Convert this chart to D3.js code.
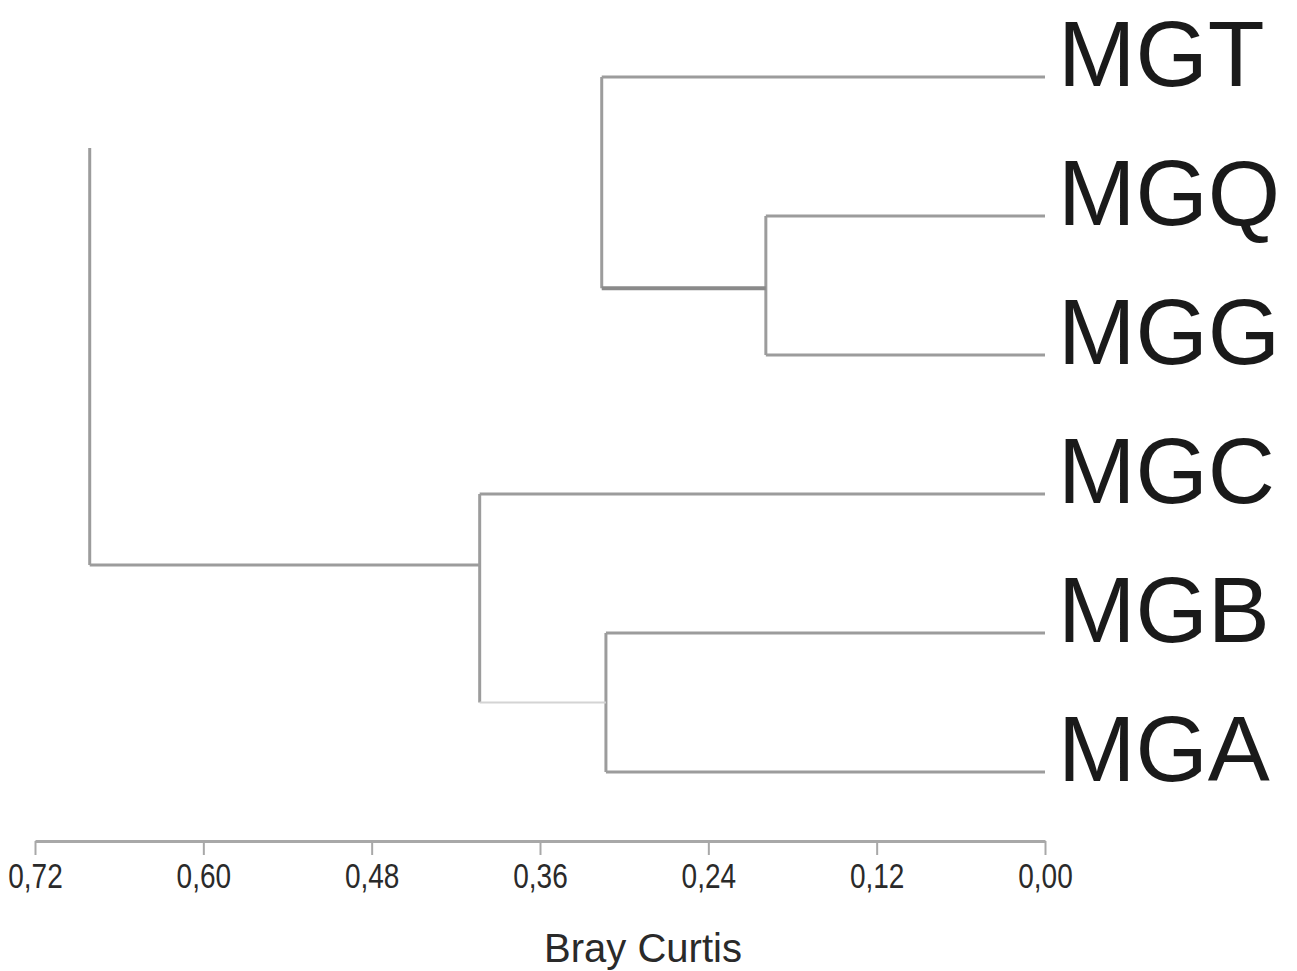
<!DOCTYPE html>
<html><head><meta charset="utf-8">
<script src="https://cdn.jsdelivr.net/npm/d3@7"></script>
<style>body{margin:0;background:#fff}svg{display:block}</style>
</head><body>
<script>
// Leaves (top to bottom)
const leaves = ["MGT","MGQ","MGG","MGC","MGB","MGA"];
// Merge nodes: id, children, Bray-Curtis height, vertical attach position (leaf index units)
const nodeIds   = ["n1","n2","n3","n4","root"];
const nodeKids  = [["MGQ","MGG"],["MGT","n1"],["MGB","MGA"],["MGC","n3"],["n2","n4"]];
const nodeH     = [0.199, 0.316, 0.313, 0.403, 0.681];
const nodeAttach= [1.52, 0.51, 4.5, 3.51, null];
const tickVals  = [0.72,0.60,0.48,0.36,0.24,0.12,0.00];
const axisTitle = "Bray Curtis";

const W=1297,H=971;
const svg=d3.select("body").append("svg").attr("width",W).attr("height",H);
const x=d3.scaleLinear().domain([0.72,0]).range([35,1045]);
const y=d3.scaleLinear().domain([0,5]).range([77,772]);

const info={};
leaves.forEach((l,i)=>info[l]={h:0,y:i});
nodeIds.forEach((id,i)=>info[id]={h:nodeH[i],y:nodeAttach[i],kids:nodeKids[i]});

const g=svg.append("g").attr("fill","none").attr("stroke","#9c9c9c").attr("stroke-width",3);
nodeIds.forEach(id=>{
  const n=info[id];
  const ys=n.kids.map(k=>info[k].y);
  g.append("line").attr("x1",x(n.h)).attr("x2",x(n.h))
    .attr("y1",y(d3.min(ys))).attr("y2",y(d3.max(ys)));
  n.kids.forEach(k=>{
    const c=info[k];
    if(id==="root" && k==="n2") return; // link absent in reference
    const ln=g.append("line").attr("x1",x(n.h)).attr("x2",x(c.h))
      .attr("y1",y(c.y)).attr("y2",y(c.y));
    if(id==="n4" && k==="n3") ln.attr("stroke","#d4d4d4").attr("stroke-width",2);
    if(id==="n2" && k==="n1") ln.attr("stroke","#8a8a8a").attr("stroke-width",4);
  });
});

// leaf labels
svg.append("g").selectAll("text").data(leaves).join("text")
  .attr("x",1058).attr("y",(d,i)=>y(i)+9)
  .attr("font-family","Liberation Sans, Arial, sans-serif").attr("font-size",93)
  .attr("fill","#1a1a1a").text(d=>d);

// axis
const ax=svg.append("g").attr("transform","translate(0,841)")
  .call(d3.axisBottom(x).tickValues(tickVals).tickSize(14).tickSizeOuter(0)
    .tickFormat(d=>d3.format(".2f")(d).replace(".",",")));
ax.select(".domain").attr("stroke","#a8a8a8").attr("stroke-width",3);
ax.selectAll(".tick line").attr("stroke","#a8a8a8").attr("stroke-width",2);
ax.selectAll(".tick text").attr("font-family","Liberation Sans, Arial, sans-serif")
  .attr("font-size",35).attr("fill","#2a2a2a").attr("dy",0).attr("y",47)
  .attr("transform","scale(0.8,1)");
svg.append("text").attr("x",643).attr("y",962).attr("text-anchor","middle")
  .attr("font-family","Liberation Sans, Arial, sans-serif").attr("font-size",40)
  .attr("fill","#2a2a2a").text(axisTitle);
</script>
</body></html>
